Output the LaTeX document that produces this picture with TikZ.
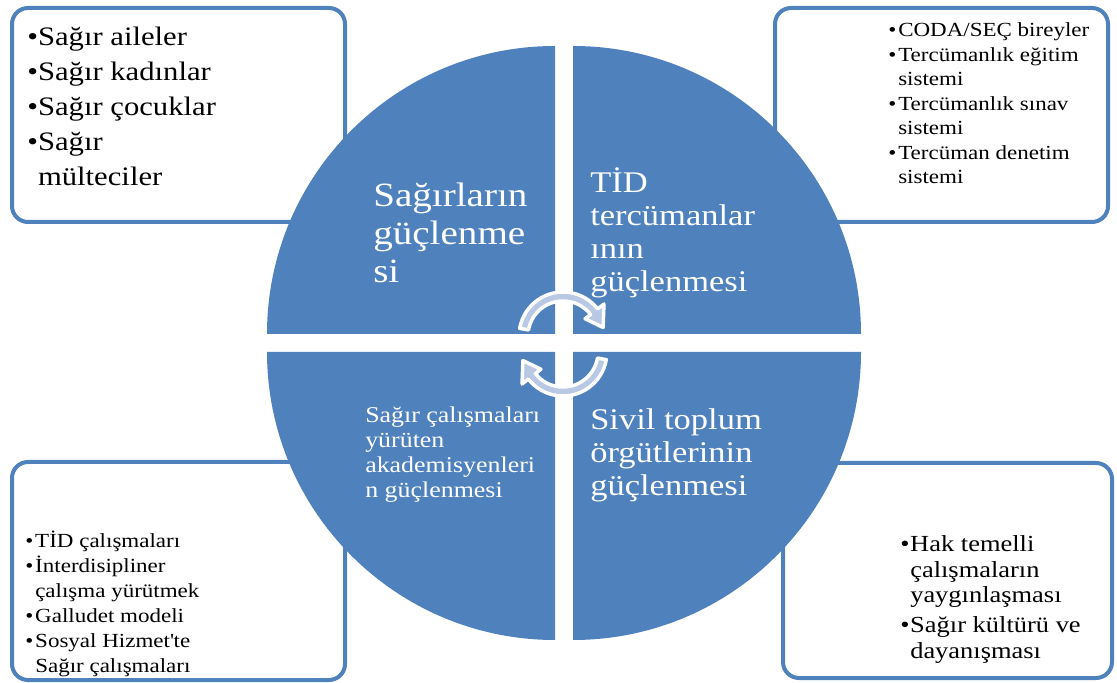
\documentclass[tikz,border=0pt]{standalone}
\usepackage{fontspec}
\setmainfont[FakeStretch=1.15]{Liberation Serif}
\usetikzlibrary{positioning}
\definecolor{qBlue}{HTML}{4F81BD}
\definecolor{qPale}{HTML}{B9C9E3}
\newcommand{\fsz}[2]{\fontsize{#1}{#2}\selectfont}
\newcommand{\itm}{\makebox[7.5pt][l]{•}}
\newcommand{\cnt}{\hspace*{7.5pt}}

\begin{document}
\begin{tikzpicture}[
  x=0.75pt, y=0.75pt,
  quad/.style={fill=qBlue},
  sidebox/.style={
    draw=qBlue,
    fill=white,
    line width=3pt,
    rounded corners=12pt
  },
  cycarrow/.style={
    fill=qPale,
    draw=white,
    line width=2.6pt,
    line join=round
  },
  % multi-line nodes sit on the baseline of their last line
  quadtext/.style={
    text=white,
    align=left,
    anchor=base west,
    inner sep=0pt
  },
  listtext/.style={
    text=black,
    align=left,
    anchor=base west,
    inner sep=0pt
  }
]
\useasboundingbox (0,0) rectangle (1117,682);

% side boxes
\draw[sidebox] (12,674) rectangle (345,460);
\draw[sidebox] (775,674) rectangle (1108,460);
\draw[sidebox] (12,220) rectangle (345,2);
\draw[sidebox] (783,219) rectangle (1112,4);

% four quarters of the circle
\fill[quad] (555,348) -- (267,348) arc[start angle=180, end angle=90, radius=288] -- cycle;
\fill[quad] (573,348) -- (573,636) arc[start angle=90, end angle=0, radius=288] -- cycle;
\fill[quad] (555,330) -- (267,330) arc[start angle=180, end angle=270, radius=288] -- cycle;
\fill[quad] (573,330) -- (861,330) arc[start angle=0, end angle=-90, radius=288] -- cycle;

% circular arrows in the middle
\begin{scope}[shift={(563,346)}]
  \draw[cycarrow] (170:44) arc[start angle=170, end angle=38, radius=44]
    -- (38:52) -- (12:41) -- (38:28) -- (38:35)
    arc[start angle=38, end angle=170, radius=35] -- cycle;
\end{scope}
\begin{scope}[shift={(563,330)}]
  \draw[cycarrow] (-10:44) arc[start angle=-10, end angle=-142, radius=44]
    -- (218:52) -- (192:41) -- (218:28) -- (218:35)
    arc[start angle=-142, end angle=-10, radius=35] -- cycle;
\end{scope}

% quarter labels
\node[quadtext, font=\fsz{25.5pt}{28.5pt}] (deaf) at (373,399)
  {Sağırların\\güçlenme\\si};
\node[quadtext, font=\fsz{22.5pt}{24.75pt}] (interp) at (590,390)
  {TİD\\tercümanlar\\ının\\güçlenmesi};
\node[quadtext, font=\fsz{16.9pt}{18.75pt}] (acad) at (365,184)
  {Sağır çalışmaları\\yürüten\\akademisyenleri\\n güçlenmesi};
\node[quadtext, font=\fsz{22.5pt}{24.75pt}] (ngo) at (590,186)
  {Sivil toplum\\örgütlerinin\\güçlenmesi};

% lists in the side boxes
\node[listtext, font=\fsz{20pt}{26.25pt}] (deaflist) at (27,496)
  {•Sağır aileler\\•Sağır kadınlar\\•Sağır çocuklar\\•Sağır\\\phantom{•}mülteciler};
\node[listtext, font=\fsz{15pt}{18.4pt}] (interplist) at (888,498)
  {\itm CODA/SEÇ bireyler\\\itm Tercümanlık eğitim\\\cnt sistemi\\
   \itm Tercümanlık sınav\\\cnt sistemi\\\itm Tercüman denetim\\\cnt sistemi};
\node[listtext, font=\fsz{15pt}{18.75pt}] (acadlist) at (25,10)
  {\itm TİD çalışmaları\\\itm İnterdisipliner\\\cnt çalışma yürütmek\\
   \itm Galludet modeli\\\itm Sosyal Hizmet\textquotesingle te\\\cnt Sağır çalışmaları};
\node[listtext, font=\fsz{17.25pt}{19.1pt}] (ngolist) at (900,24)
  {\itm Hak temelli\\\cnt çalışmaların\\\cnt yaygınlaşması\\[3.4pt]
   \itm Sağır kültürü ve\\\cnt dayanışması};

\end{tikzpicture}
\end{document}
